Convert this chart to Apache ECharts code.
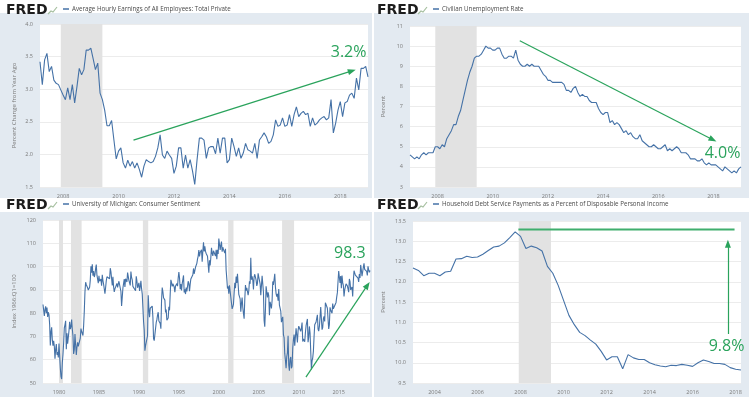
<!DOCTYPE html>
<html>
<head>
<meta charset="utf-8">
<script src="https://cdn.jsdelivr.net/npm/echarts@6/dist/echarts.min.js"></script>
<style>
  html, body { margin: 0; padding: 0; background: #fff; }
  #chart { width: 749px; height: 397px; }
</style>
</head>
<body>
<div id="chart"></div>
<script>
// ---- data ----

// Average Hourly Earnings, % change from year ago, monthly Mar 2007 - Jan 2019
const earningsStart = 2007 + 2 / 12;
const earnings = [
  3.42, 3.07, 3.45, 3.55, 3.27, 3.35, 3.14, 3.09, 3.07, 2.99,
  2.91, 2.84, 3.02, 2.84, 3.07, 2.79, 3.04, 3.32, 3.22, 3.30, 3.60, 3.60,
  3.63, 3.47, 3.30, 3.40, 2.94, 2.84, 2.68, 2.44, 2.44, 2.52, 2.22, 1.93,
  2.05, 2.10, 1.87, 1.79, 1.91, 1.82, 1.89, 1.79, 1.87, 1.77, 1.65, 1.82,
  1.92, 1.89, 1.87, 1.89, 1.97, 2.10, 2.30, 1.99, 1.94, 2.05, 1.99, 1.94,
  1.71, 1.82, 2.10, 2.10, 1.79, 1.99, 1.79, 1.92, 1.75, 1.54, 1.92, 2.25,
  2.25, 2.22, 1.94, 2.10, 2.12, 2.12, 2.01, 2.25, 2.02, 2.25, 2.25, 1.87,
  1.92, 2.25, 2.12, 1.97, 2.10, 1.94, 2.02, 2.17, 2.07, 2.05, 2.02, 2.17,
  1.94, 2.22, 2.27, 2.33, 2.27, 2.17, 2.20, 2.30, 2.53, 2.43, 2.45, 2.56,
  2.43, 2.45, 2.61, 2.43, 2.61, 2.73, 2.58, 2.63, 2.66, 2.61, 2.63, 2.43,
  2.56, 2.45, 2.48, 2.53, 2.56, 2.58, 2.53, 2.56, 2.84, 2.33, 2.48, 2.68,
  2.81, 2.58, 2.79, 2.81, 2.91, 2.94, 2.86, 3.17, 2.99, 3.32, 3.32, 3.35,
  3.19
];

// Civilian Unemployment Rate, monthly Jan 2007 - Jan 2019
const unempStart = 2007;
const unemployment = [
  4.6, 4.5, 4.4, 4.5, 4.4, 4.6, 4.7, 4.6, 4.7, 4.7, 4.7, 5.0,
  5.0, 4.9, 5.1, 5.0, 5.4, 5.6, 5.8, 6.1, 6.1, 6.5, 6.8, 7.3,
  7.8, 8.3, 8.7, 9.0, 9.4, 9.5, 9.5, 9.6, 9.8, 10.0, 9.9, 9.9,
  9.8, 9.8, 9.9, 9.9, 9.6, 9.4, 9.4, 9.5, 9.5, 9.4, 9.8, 9.3,
  9.1, 9.0, 9.0, 9.1, 9.0, 9.1, 9.0, 9.0, 9.0, 8.8, 8.6, 8.5,
  8.3, 8.3, 8.2, 8.2, 8.2, 8.2, 8.2, 8.1, 7.8, 7.8, 7.7, 7.9,
  8.0, 7.7, 7.5, 7.6, 7.5, 7.5, 7.3, 7.2, 7.2, 7.2, 6.9, 6.7,
  6.6, 6.7, 6.7, 6.2, 6.3, 6.1, 6.2, 6.1, 5.9, 5.7, 5.8, 5.6,
  5.7, 5.5, 5.4, 5.4, 5.6, 5.3, 5.2, 5.1, 5.0, 5.0, 5.1, 5.0,
  4.9, 4.9, 5.0, 5.1, 4.8, 4.9, 4.8, 4.9, 5.0, 4.9, 4.7, 4.7,
  4.7, 4.6, 4.4, 4.4, 4.4, 4.3, 4.3, 4.4, 4.2, 4.1, 4.2, 4.1,
  4.1, 4.1, 4.0, 3.9, 3.8, 4.0, 3.9, 3.8, 3.7, 3.8, 3.7, 3.9,
  4.0
];

// University of Michigan Consumer Sentiment, monthly Jan 1978 - Dec 2018
const sentimentStart = 1978;
const sentiment = [
  83.7, 84.3, 78.8, 81.6, 82.9, 80.0, 82.4, 78.4, 80.4, 79.3, 75.0, 66.1,
  72.1, 73.9, 68.4, 66.0, 68.1, 65.8, 60.4, 64.5, 66.7, 62.1, 63.3, 61.0,
  67.0, 66.9, 56.5, 52.7, 51.7, 58.7, 62.3, 67.3, 73.7, 75.0, 76.7, 64.5,
  71.4, 66.9, 66.5, 72.4, 76.3, 73.1, 74.1, 77.2, 73.1, 70.3, 62.5, 64.3,
  71.0, 66.5, 62.0, 65.5, 67.5, 65.7, 65.4, 65.4, 69.3, 73.4, 72.1, 71.9,
  70.4, 74.6, 80.8, 89.1, 93.3, 92.2, 92.8, 90.9, 89.9, 89.3, 91.1, 94.2,
  100.1, 97.4, 101.0, 96.1, 98.1, 95.5, 96.6, 99.1, 100.9, 96.3, 95.7, 92.9,
  96.0, 93.7, 93.7, 94.6, 91.8, 96.5, 94.0, 92.4, 92.1, 88.4, 90.9, 93.9,
  95.6, 95.9, 95.1, 96.2, 94.8, 99.3, 97.7, 94.9, 91.9, 95.6, 91.4, 89.1,
  90.4, 90.2, 90.8, 92.8, 91.1, 91.5, 93.7, 94.4, 93.6, 89.3, 83.1, 86.8,
  90.8, 91.6, 94.6, 91.2, 94.8, 94.7, 93.4, 97.4, 97.3, 94.1, 93.0, 91.9,
  97.9, 95.4, 94.3, 91.5, 90.7, 90.6, 92.0, 89.6, 95.8, 93.9, 90.9, 90.5,
  93.0, 89.5, 91.3, 93.9, 90.6, 88.3, 88.2, 76.4, 72.8, 63.9, 66.0, 65.5,
  66.8, 70.4, 87.7, 81.8, 78.3, 82.1, 82.9, 82.0, 83.0, 78.3, 69.1, 68.2,
  67.5, 68.8, 76.0, 77.2, 79.2, 80.4, 76.6, 76.1, 75.6, 73.3, 85.3, 91.0,
  89.3, 86.6, 85.9, 85.6, 80.3, 81.5, 77.0, 77.3, 77.9, 82.7, 81.2, 88.2,
  94.3, 93.2, 91.5, 92.6, 92.8, 91.2, 89.0, 91.7, 91.5, 92.7, 91.6, 95.1,
  97.6, 95.1, 90.3, 92.5, 89.8, 92.7, 94.4, 96.2, 88.9, 90.2, 88.2, 91.0,
  89.3, 88.5, 93.7, 92.7, 89.4, 92.4, 94.7, 95.3, 94.7, 96.5, 99.2, 96.9,
  97.4, 99.7, 100.0, 101.4, 103.2, 104.5, 107.1, 104.4, 106.0, 105.6, 107.2, 102.1,
  106.6, 110.4, 106.5, 108.7, 106.5, 105.6, 105.2, 104.4, 100.9, 97.4, 102.7, 100.5,
  103.9, 108.1, 105.7, 104.6, 106.8, 107.3, 106.0, 104.5, 107.2, 103.2, 107.2, 105.4,
  112.0, 111.3, 107.1, 109.2, 110.7, 106.4, 108.3, 107.3, 106.8, 105.8, 107.6, 98.4,
  94.7, 90.6, 91.5, 88.4, 92.0, 92.6, 92.4, 91.5, 81.8, 82.7, 83.9, 88.8,
  93.0, 90.7, 95.7, 93.0, 96.9, 92.4, 88.1, 87.6, 86.1, 80.6, 84.2, 86.7,
  82.4, 79.9, 77.6, 86.0, 92.1, 89.7, 90.9, 89.3, 87.7, 89.6, 93.7, 92.6,
  103.8, 94.4, 95.8, 94.2, 90.2, 95.6, 96.7, 95.9, 94.2, 91.7, 92.8, 97.1,
  95.5, 94.1, 92.6, 87.7, 86.9, 96.0, 96.5, 89.1, 76.9, 74.2, 81.6, 91.5,
  91.2, 86.7, 88.9, 87.4, 79.1, 84.9, 84.7, 82.0, 85.4, 93.6, 92.1, 91.7,
  96.9, 91.3, 88.4, 87.1, 88.3, 85.3, 90.4, 83.4, 83.4, 80.9, 76.1, 75.5,
  78.4, 70.8, 69.5, 62.6, 59.8, 56.4, 61.2, 63.0, 70.3, 57.6, 55.3, 60.1,
  61.2, 56.3, 57.3, 65.1, 68.7, 70.8, 66.0, 65.7, 73.5, 70.6, 67.4, 72.5,
  74.4, 73.6, 73.6, 72.2, 73.6, 76.0, 67.8, 68.9, 68.2, 67.7, 71.6, 74.5,
  74.2, 77.5, 67.5, 69.8, 74.3, 71.5, 63.7, 55.8, 59.5, 60.8, 63.7, 69.9,
  75.0, 75.3, 76.2, 76.4, 79.3, 73.2, 72.3, 74.3, 78.3, 82.6, 82.7, 72.9,
  73.8, 77.6, 78.6, 76.4, 84.5, 84.1, 85.1, 82.1, 77.5, 73.2, 75.1, 82.5,
  81.2, 81.6, 80.0, 84.1, 81.9, 82.5, 81.8, 82.5, 84.6, 86.9, 88.8, 93.6,
  98.1, 95.4, 93.0, 95.9, 90.7, 96.1, 93.1, 91.9, 87.2, 90.0, 91.3, 92.6,
  92.0, 91.7, 91.0, 89.0, 94.7, 93.5, 90.0, 89.8, 91.2, 87.2, 93.8, 98.2,
  98.5, 96.3, 96.9, 97.0, 97.1, 95.0, 93.4, 96.8, 95.1, 100.7, 98.5, 95.9,
  95.7, 99.7, 101.4, 98.8, 98.0, 98.2, 97.9, 96.2, 100.1, 98.6, 97.5, 98.3
];

// Household debt service payments, % of disposable income, quarterly 2003Q1 - 2018Q2
const debtStart = 2003;
const debtService = [
  12.34, 12.28, 12.15, 12.21,
  12.21, 12.15, 12.24, 12.26,
  12.56, 12.57, 12.63, 12.60,
  12.61, 12.68, 12.77, 12.86,
  12.88, 12.96, 13.09, 13.23,
  13.12, 12.82, 12.88, 12.84,
  12.76, 12.38, 12.21, 11.91,
  11.54, 11.17, 10.94, 10.75,
  10.67, 10.56, 10.46, 10.28,
  10.07, 10.15, 10.15, 9.85,
  10.20, 10.12, 10.08, 10.08,
  10.00, 9.95, 9.92, 9.90,
  9.94, 9.93, 9.96, 9.94,
  9.91, 10.00, 10.07, 10.03,
  9.98, 9.98, 9.96, 9.88,
  9.84, 9.82
];

// recessions (start, end) in decimal years
const recessionsShort = [[2007.917, 2009.417]];
const recessionsLong = [
  [1980.0, 1980.5], [1981.5, 1982.833], [1990.5, 1991.167],
  [2001.167, 2001.833], [2007.917, 2009.417]
];

// tick labels
const ticks2yr = [2008, 2010, 2012, 2014, 2016, 2018];
const ticks5yr = [1980, 1985, 1990, 1995, 2000, 2005, 2010, 2015];
const ticksDebt = [2004, 2006, 2008, 2010, 2012, 2014, 2016, 2018];

// green annotations, in data coordinates
const earnArrow = [[2010.54, 2.22], [2018.42, 3.28]];
const earnNote = [2018.3, 3.56, '3.2%'];
const unempArrow = [[2010.98, 10.27], [2017.98, 5.35]];
const unempNote = [2018.33, 4.65, '4.0%'];
const sentArrow = [[2010.9, 52.5], [2018.6, 92.0]];
const sentNote = [2016.4, 105.6, '98.3'];
const debtLevel = [[2007.9, 13.29], [2017.95, 13.29]];
const debtArrow = [[2017.64, 10.71], [2017.64, 12.94]];
const debtNote = [2017.58, 10.4, '9.8%'];

const names = [
  'Average Hourly Earnings of All Employees: Total Private',
  'Civilian Unemployment Rate',
  'University of Michigan: Consumer Sentiment',
  'Household Debt Service Payments as a Percent of Disposable Personal Income'
];

// ---- chart ----
const LINE = '#4572a7';
const GREEN = '#2aa35c';
const PANEL_BG = '#e3eaf1';
const LABEL = '#7a7a7a';
const FONT = 'Open Sans';

const toXY = (start, step, vals) => vals.map((v, i) => [start + i * step, v]);

const chart = echarts.init(document.getElementById('chart'));

const grids = [
  { left: 40, right: 381, top: 24, bottom: 210 },
  { left: 410, right: 8, top: 26, bottom: 210 },
  { left: 43, right: 379, top: 220, bottom: 14 },
  { left: 413, right: 8, top: 221, bottom: 14 }
].map(g => ({ ...g, show: true, backgroundColor: '#fff', borderWidth: 0 }));

const xAxis = (i, min, max, ticks) => ({
  gridIndex: i, type: 'value', min, max,
  axisLine: { show: false }, axisTick: { show: false }, splitLine: { show: false },
  axisLabel: { customValues: ticks, formatter: v => String(Math.round(v)), fontSize: 5.5, color: LABEL, fontFamily: FONT, margin: 6 }
});

const yAxis = (i, min, max, interval, name, nameGap, digits) => ({
  gridIndex: i, type: 'value', min, max, interval,
  name, nameLocation: 'middle', nameGap,
  nameTextStyle: { fontSize: 6, color: LABEL, fontFamily: FONT },
  axisLine: { show: false }, axisTick: { show: false },
  axisLabel: { fontSize: 5.5, color: LABEL, fontFamily: FONT, margin: 7, formatter: v => v.toFixed(digits) },
  splitLine: { lineStyle: { color: '#ececec', width: 1 } }
});

const greenLine = { color: GREEN, width: 1.2, type: 'solid', opacity: 1 };

const arrowLine = pts => [
  { coord: pts[0], symbol: 'none' },
  { coord: pts[1], symbol: 'triangle', symbolSize: [6, 8] }
];

const series = (i, data, recessions, arrow, note) => ({
  name: names[i], type: 'line', xAxisIndex: i, yAxisIndex: i,
  data, showSymbol: false, symbol: 'none',
  lineStyle: { color: LINE, width: 1.1 }, itemStyle: { color: LINE },
  markArea: {
    silent: true,
    itemStyle: { color: '#e2e2e2', opacity: 1 },
    data: recessions.map(r => [{ xAxis: r[0] }, { xAxis: r[1] }])
  },
  markLine: {
    silent: true, symbol: ['none', 'triangle'], symbolSize: [6, 8],
    lineStyle: greenLine,
    itemStyle: { color: GREEN },
    label: { show: false },
    emphasis: { disabled: true },
    data: [arrowLine(arrow)]
  },
  markPoint: {
    silent: true, symbol: 'circle', symbolSize: 1,
    itemStyle: { color: 'rgba(0,0,0,0)' },
    label: { show: true, position: 'inside', formatter: '{b}', fontSize: 16, color: GREEN, fontFamily: FONT },
    data: [{ name: note[2], coord: [note[0], note[1]] }]
  }
});

const title = (left, top) => ({
  text: 'FRED', left, top, padding: 0,
  textStyle: { fontSize: 14, fontWeight: 900, fontFamily: 'DejaVu Sans', color: '#1d1d1d' }
});

const legend = (i, left, top) => ({
  data: [names[i]], left, top, padding: 0,
  icon: 'rect', itemWidth: 6, itemHeight: 1.5, selectedMode: false,
  textStyle: { fontSize: 6.2, color: '#4a4a4a', fontFamily: FONT, padding: [0, 0, 0, -2] }
});

const icon = (x, y) => ({
  type: 'polyline', silent: true,
  shape: { points: [[x, y + 8], [x + 3, y + 5], [x + 5, y + 6], [x + 9, y + 1]] },
  style: { stroke: '#a6bfa0', lineWidth: 1.2, fill: null }
});

chart.setOption({
  animation: false,
  backgroundColor: PANEL_BG,
  title: [title(6, 3), title(377, 3), title(6, 198), title(377, 198)],
  legend: [legend(0, 63, 6), legend(1, 433, 6), legend(2, 63, 201), legend(3, 433, 201)],
  graphic: [
    { type: 'rect', shape: { x: 0, y: 0, width: 749, height: 13 }, style: { fill: '#fff' }, silent: true },
    { type: 'rect', shape: { x: 0, y: 198, width: 749, height: 14 }, style: { fill: '#fff' }, silent: true },
    { type: 'rect', shape: { x: 372, y: 0, width: 2, height: 397 }, style: { fill: '#fff' }, silent: true },
    icon(48, 6), icon(418, 6), icon(48, 201), icon(418, 201)
  ],
  grid: grids,
  xAxis: [
    xAxis(0, earningsStart, earningsStart + (earnings.length - 1) / 12, ticks2yr),
    xAxis(1, unempStart, unempStart + (unemployment.length - 1) / 12, ticks2yr),
    xAxis(2, sentimentStart, sentimentStart + (sentiment.length - 1) / 12, ticks5yr),
    xAxis(3, debtStart, debtStart + (debtService.length - 1) / 4, ticksDebt)
  ],
  yAxis: [
    yAxis(0, 1.5, 4.0, 0.5, 'Percent Change from Year Ago', 23, 1),
    yAxis(1, 3, 11, 1, 'Percent', 24, 0),
    yAxis(2, 50, 120, 10, 'Index 1966:Q1=100', 26, 0),
    yAxis(3, 9.5, 13.5, 0.5, 'Percent', 27, 1)
  ],
  series: [
    series(0, toXY(earningsStart, 1 / 12, earnings), recessionsShort, earnArrow, earnNote),
    series(1, toXY(unempStart, 1 / 12, unemployment), recessionsShort, unempArrow, unempNote),
    series(2, toXY(sentimentStart, 1 / 12, sentiment), recessionsLong, sentArrow, sentNote),
    series(3, toXY(debtStart, 1 / 4, debtService), recessionsShort, debtArrow, debtNote),
    {
      // green reference level drawn across the debt panel
      name: 'level', type: 'line', xAxisIndex: 3, yAxisIndex: 3,
      data: debtLevel, showSymbol: false, symbol: 'none', silent: true,
      lineStyle: { color: '#3fae6d', width: 1.8 }, itemStyle: { color: GREEN }, z: 3
    }
  ]
});
</script>
</body>
</html>
